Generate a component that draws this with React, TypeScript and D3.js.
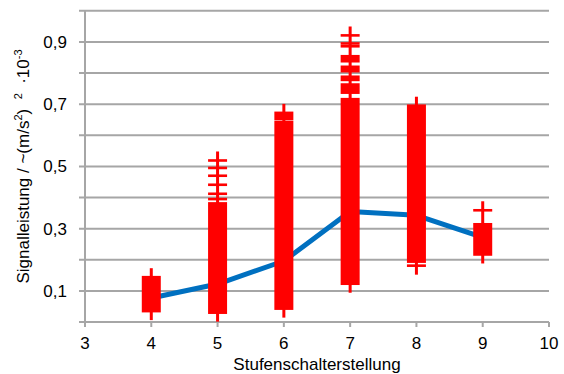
import React from "react";
import * as d3 from "d3";

// Stufenschalterstellung (x) and the mean signal power (blue line)
const steps = [4, 5, 6, 7, 8, 9];
const meanValues = [0.077, 0.122, 0.196, 0.355, 0.343, 0.272];

// red "+" markers per step: [low, high] ranges of densely stacked markers
const markerRanges: [number, number][][] = [
  [[0.035, 0.144]],
  [
    [0.03, 0.381],
    [0.395, 0.395],
    [0.412, 0.412],
    [0.441, 0.441],
    [0.47, 0.47],
    [0.495, 0.495],
    [0.519, 0.519],
  ],
  [
    [0.043, 0.642],
    [0.652, 0.672],
  ],
  [
    [0.123, 0.716],
    [0.737, 0.763],
    [0.778, 0.788],
    [0.806, 0.82],
    [0.838, 0.854],
    [0.886, 0.886],
    [0.895, 0.895],
    [0.921, 0.921],
  ],
  [
    [0.181, 0.181],
    [0.194, 0.695],
  ],
  [
    [0.217, 0.314],
    [0.359, 0.359],
  ],
];

const xTicks = [3, 4, 5, 6, 7, 8, 9, 10];
const yGrid = [0.1, 0.2, 0.3, 0.4, 0.5, 0.6, 0.7, 0.8, 0.9, 1.0];
const yLabels = [0.1, 0.3, 0.5, 0.7, 0.9];

const WIDTH = 564;
const HEIGHT = 374;
const FONT = "'Liberation Sans', Arial, sans-serif";
const FONT_SIZE = 17;
const GRID = "#a6a6a6";
const RED = "#ff0000";
const BLUE = "#0070c0";
const MARKER_W = 19;
const MARKER_STROKE = 2.6;
const MARKER_HALF = 9;
const NB = "\u00a0";

export default function App() {
  const xScale = d3.scaleLinear().domain([3, 10]).range([85, 549]);
  const yScale = d3.scaleLinear().domain([0, 1]).range([322, 10.8]);

  const line = d3
    .line<number>()
    .x((_, i) => xScale(steps[i]))
    .y((d) => yScale(d));

  const fmt = (v: number) => v.toFixed(1).replace(".", ",");

  return (
    <svg
      width={WIDTH}
      height={HEIGHT}
      style={{ position: "absolute", left: 0, top: 0, background: "white" }}
      fontFamily={FONT}
    >
      {/* grid lines and y ticks */}
      {yGrid.map((v) => (
        <line
          key={v}
          x1={79}
          x2={xScale(10)}
          y1={yScale(v)}
          y2={yScale(v)}
          stroke={GRID}
          strokeWidth={2}
        />
      ))}
      {/* axes */}
      <line
        x1={xScale(3)}
        x2={xScale(3)}
        y1={yScale(1)}
        y2={yScale(0) + 5}
        stroke={GRID}
        strokeWidth={2}
      />
      <line
        x1={79}
        x2={xScale(10)}
        y1={yScale(0)}
        y2={yScale(0)}
        stroke={GRID}
        strokeWidth={2}
      />
      {xTicks.map((t) => (
        <g key={t}>
          <line
            x1={xScale(t)}
            x2={xScale(t)}
            y1={yScale(0)}
            y2={yScale(0) + 5}
            stroke={GRID}
            strokeWidth={2}
          />
          <text
            x={xScale(t)}
            y={349}
            textAnchor="middle"
            fontSize={FONT_SIZE}
            fill="#000"
          >
            {t}
          </text>
        </g>
      ))}
      {yLabels.map((v) => (
        <text
          key={v}
          x={67}
          y={yScale(v) + 6}
          textAnchor="end"
          fontSize={FONT_SIZE}
          fill="#000"
        >
          {fmt(v)}
        </text>
      ))}

      {/* mean line */}
      <path
        d={line(meanValues) ?? ""}
        fill="none"
        stroke={BLUE}
        strokeWidth={5}
        strokeLinejoin="round"
      />

      {/* red markers */}
      {steps.map((s, i) => {
        const cx = xScale(s);
        const ranges = markerRanges[i];
        const lo = d3.min(ranges, (r) => r[0]) as number;
        const hi = d3.max(ranges, (r) => r[1]) as number;
        return (
          <g key={s}>
            <line
              x1={cx}
              x2={cx}
              y1={yScale(hi) - MARKER_HALF}
              y2={yScale(lo) + MARKER_HALF}
              stroke={RED}
              strokeWidth={3}
            />
            {ranges.map((r, j) => (
              <rect
                key={j}
                x={cx - MARKER_W / 2}
                width={MARKER_W}
                y={yScale(r[1]) - MARKER_STROKE / 2}
                height={yScale(r[0]) - yScale(r[1]) + MARKER_STROKE}
                fill={RED}
              />
            ))}
          </g>
        );
      })}

      {/* axis titles */}
      <text
        x={(xScale(3) + xScale(10)) / 2}
        y={370}
        textAnchor="middle"
        fontSize={FONT_SIZE}
        fill="#000"
      >
        Stufenschalterstellung
      </text>
      <text
        transform="translate(28.5,166.5) rotate(-90)"
        textAnchor="middle"
        fontSize={FONT_SIZE}
        fill="#000"
      >
        Signalleistung / ~(m/s
        <tspan fontSize={11} dy={-7}>
          2
        </tspan>
        <tspan dy={7}>{`)${NB}${NB}`}</tspan>
        <tspan fontSize={11} dy={-7}>
          2
        </tspan>
        <tspan dy={7}>{`${NB}${NB}·10`}</tspan>
        <tspan fontSize={11} dy={-7}>
          -3
        </tspan>
      </text>
    </svg>
  );
}
